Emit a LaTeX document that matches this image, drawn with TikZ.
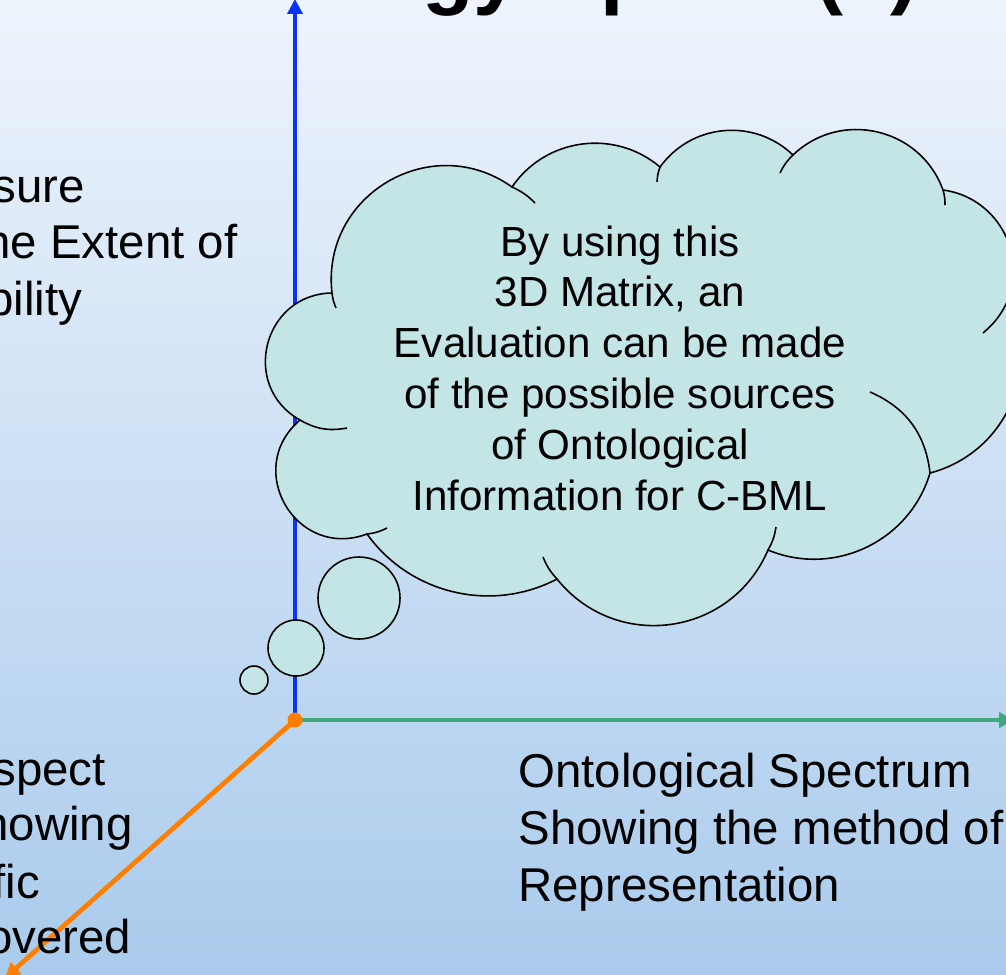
\documentclass[tikz,border=0pt]{standalone}
\usepackage{fontspec}
\setmainfont{Liberation Sans}
\usetikzlibrary{arrows.meta,positioning}
\definecolor{bgtop}{RGB}{238,244,252}
\definecolor{bgbottom}{RGB}{170,203,236}
\definecolor{cloudfill}{RGB}{196,229,230}
\definecolor{axisblue}{RGB}{10,50,255}
\definecolor{axisgreen}{RGB}{63,168,124}
\definecolor{axisorange}{RGB}{255,128,0}

\begin{document}
\begin{tikzpicture}[x=0.02cm,y=-0.02cm,
    axis/.style={line width=2.7pt,-{Triangle[width=8.5pt,length=8.5pt]}},
    puff/.style={draw,line width=0.9pt,fill=cloudfill},
    seam/.style={draw,line width=0.9pt},
    txt/.style={anchor=base west,inner sep=0pt,font=\fontsize{27}{32.4}\selectfont}]
   \useasboundingbox (0,0) rectangle (1006,974);
   \clip (0,0) rectangle (1006,974);
   \shade[top color=bgtop,bottom color=bgbottom] (0,0) rectangle (1006,974);
   \node[anchor=base west,inner sep=0pt,font=\bfseries\fontsize{48}{58}\selectfont] (title) at (150,-2) {Ontology Space (2)};

   \coordinate (o) at (295,720);
   \coordinate (x_end) at (1014,720);
   \coordinate (y_end) at (295,-1);
   \coordinate (z_end) at (5,978);
   \draw[axis,axisgreen] (o) -- (x_end);
   \draw[axis,axisblue] (o) -- (y_end);
   \draw[axis,axisorange] (o) -- (z_end);
   \fill[axisorange] (o) circle (7.5);

   \coordinate (c_1) at (300,420);
   \coordinate (c_2) at (332,293);
   \coordinate (c_3) at (512,187);
   \coordinate (c_4) at (660,167);
   \coordinate (c_5) at (793,155);
   \coordinate (c_6) at (943,190);
   \coordinate (c_7) at (1008,300);
   \coordinate (c_8) at (930,473);
   \coordinate (c_9) at (768,550);
   \coordinate (c_10) at (557,579);
   \coordinate (c_11) at (367,534);
   \path[puff] (c_1) to[bend left=75,looseness=1.35] (c_2)
      to[bend left=66,looseness=1.21] (c_3)
      to[bend left=48,looseness=1.02] (c_4)
      to[bend left=49,looseness=1.03] (c_5)
      to[bend left=57,looseness=1.1] (c_6)
      to[bend left=52,looseness=1.05] (c_7)
      to[bend left=51,looseness=1.05] (c_8)
      to[bend left=48,looseness=1.02] (c_9)
      to[bend left=59,looseness=1.13] (c_10)
      to[bend left=41,looseness=0.97] (c_11)
      to[bend left=80,looseness=1.46] (c_1) -- cycle;
   \path[seam] (c_2) to[bend right=8] (336,308);
   \path[seam] (c_3) to[bend left=10] (535,203);
   \path[seam] (c_4) to[bend right=8] (657,182);
   \path[seam] (c_5) to[bend right=10] (780,173);
   \path[seam] (c_6) to[bend left=8] (945,205);
   \path[seam] (c_7) to[bend left=12] (983,333);
   \path[seam] (c_8) to[bend right=30] (870,392);
   \path[seam] (c_9) to[bend right=10] (776,527);
   \path[seam] (c_10) to[bend left=10] (543,557);
   \path[seam] (c_11) to[bend right=10] (387,528);
   \path[seam] (c_1) to[bend right=20] (347,428);

   \path[puff] (359,598) circle (41);
   \path[puff] (296,648) circle (28);
   \path[puff] (254,680) circle (14);

   \node[align=center,anchor=base,inner sep=0pt,font=\fontsize{24}{28.9}\selectfont] (note) at (620,510)
      {By using this\\3D Matrix, an\\Evaluation can be made\\of the possible sources\\of Ontological\\Information for C-BML};

   \node[txt] (y_1) at (-8,202) {sure};
   \node[txt] (y_2) at (-16,258) {he Extent of};
   \node[txt] (y_3) at (-13,315) {bility};
   \node[txt] (z_1) at (-8,785) {spect};
   \node[txt] (z_2) at (-18,840) {howing};
   \node[txt] (z_3) at (-8,898) {fic};
   \node[txt] (z_4) at (-14,953) {overed};
   \node[txt] (x_1) at (518,787) {Ontological Spectrum};
   \node[txt] (x_2) at (518,844) {Showing the method of};
   \node[txt] (x_3) at (518,901) {Representation};
\end{tikzpicture}
\end{document}
